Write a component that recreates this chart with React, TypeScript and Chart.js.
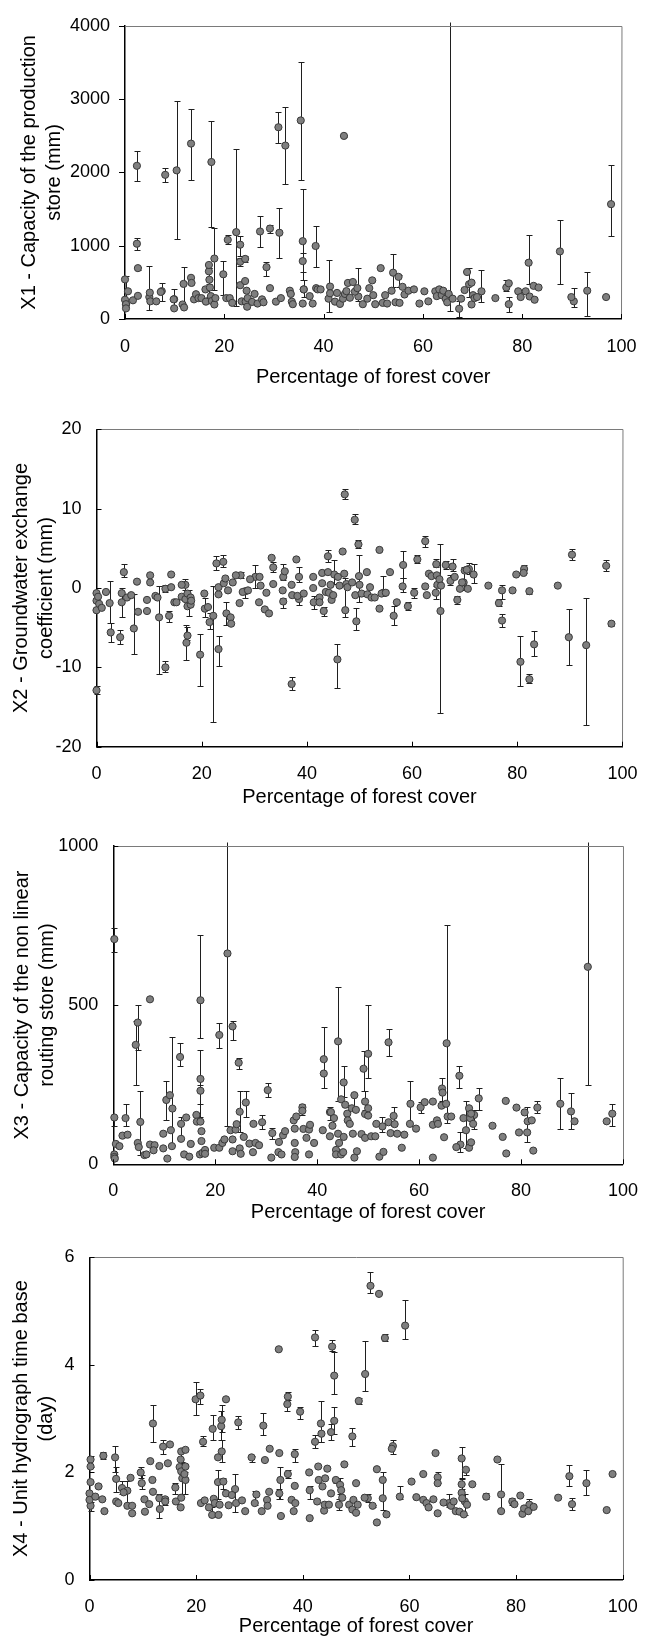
import React, { useEffect, useRef } from 'react';
import { Chart, registerables } from 'chart.js';

Chart.register(...registerables);

const FONT = '"Liberation Sans", Arial, Helvetica, sans-serif';

// ---------- shared ----------
const X_TICKS = [0, 20, 40, 60, 80, 100];
const X_TITLE = 'Percentage of forest cover';

// ---------- X1 ----------
const X1_TICKS = [0, 1000, 2000, 3000, 4000];
const X1_TITLE = ['X1 - Capacity of the production', 'store (mm)'];
const X1_COVER = [0, 0, 0.2, 0.2, 0.6, 1.6, 2.6, 5.0, 5.1, 6.3, 7.2, 9.8, 9.9, 11.6, 11.9, 13.3, 13.4, 13.9, 14.3, 14.8, 15.4, 16.2, 16.3, 16.9, 17.1, 17.3, 17.5, 18.0, 18.2, 20.4, 21.1, 21.6, 23.2, 23.5, 24.2, 24.3, 24.5, 24.6, 24.7, 25.6, 26.1, 26.7, 27.6, 27.9, 29.2, 30.4, 31.4, 33.2, 33.4, 33.6, 33.8, 35.8, 36.0, 37.2, 37.8, 38.5, 38.8, 39.4, 41.3, 41.3, 42.3, 42.7, 43.3, 43.9, 44.3, 44.6, 44.9, 45.3, 45.9, 46.3, 46.8, 47.9, 48.8, 49.2, 49.8, 50.0, 50.4, 51.5, 51.9, 52.4, 52.8, 53.7, 54.5, 55.3, 55.9, 56.3, 57.1, 58.2, 59.3, 60.3, 61.1, 62.5, 62.8, 63.3, 63.8, 64.1, 64.6, 64.9, 65.2, 66.0, 67.7, 68.4, 68.9, 69.8, 69.8, 70.1, 70.4, 70.9, 74.6, 77.3, 79.2, 79.7, 80.7, 81.5, 82.3, 82.5, 83.3, 89.9, 96.9];
const X1_VALUE = [540, 263, 202, 145, 378, 255, 316, 360, 241, 241, 369, 268, 145, 198, 158, 562, 492, 268, 338, 285, 285, 404, 237, 737, 430, 312, 246, 198, 285, 285, 285, 220, 461, 241, 518, 237, 386, 167, 285, 233, 342, 211, 268, 228, 421, 237, 285, 386, 342, 237, 202, 211, 404, 312, 211, 421, 404, 404, 443, 351, 237, 356, 206, 277, 342, 380, 492, 290, 505, 373, 421, 202, 277, 421, 527, 325, 202, 694, 220, 325, 211, 386, 228, 220, 439, 334, 386, 404, 211, 378, 241, 378, 312, 404, 325, 386, 277, 228, 342, 277, 277, 395, 641, 496, 198, 325, 285, 299, 285, 487, 378, 299, 378, 307, 452, 263, 430, 299, 299];
const X1_EB_COVER = [2.4, 2.4, 2.6, 8.1, 10.4, 13.3, 17.4, 18.0, 19.8, 20.7, 22.4, 23.2, 23.2, 24.2, 27.2, 28.5, 29.2, 30.9, 31.1, 32.3, 35.4, 35.8, 35.8, 38.4, 44.1, 65.5, 81.3, 87.6, 93.1, 97.9, 0.2, 4.9, 7.4, 9.9, 11.8, 16.9, 17.0, 41.0, 47.0, 54.0, 55.1, 67.3, 69.3, 71.8, 76.8, 77.3, 90.4, 36.0];
const X1_EB_VALUE = [2090, 1027, 694, 1967, 2028, 2393, 2142, 825, 610, 1080, 1185, 1014, 781, 820, 1194, 707, 1234, 2616, 1177, 2366, 2709, 1062, 790, 996, 2498, 290, 768, 922, 386, 1567, 200, 299, 380, 270, 479, 650, 536, 277, 307, 632, 575, 140, 474, 378, 430, 202, 241, 404];
const X1_EB_LOW = [1880, 940, 670, 1870, 1090, 1900, 1260, 400, 330, 1020, 180, 860, 720, 780, 980, 580, 1180, 2400, 830, 1840, 1900, 640, 530, 710, 2480, 110, 480, 480, 40, 1130, 160, 120, 250, 140, 160, 480, 300, 100, 250, 430, 440, 30, 300, 230, 380, 90, 170, 300];
const X1_EB_HIGH = [2290, 1110, 710, 2060, 2970, 2870, 2700, 1240, 790, 1140, 2320, 1130, 830, 860, 1410, 780, 1280, 2830, 1510, 2890, 3500, 1770, 900, 1270, 2515, 4300, 1140, 1350, 640, 2100, 580, 726, 490, 410, 713, 700, 690, 800, 690, 890, 600, 250, 700, 670, 530, 300, 420, 530];

// ---------- X2 ----------
const X2_TICKS = [-20, -10, 0, 10, 20];
const X2_TITLE = ['X2 - Groundwater exchange', 'coefficient (mm)'];
const X2_COVER = [0, 0, 0, 0.3, 0.5, 1.0, 1.8, 4.8, 5.8, 6.6, 7.7, 7.9, 9.6, 9.6, 10.2, 10.2, 11.2, 11.6, 14.2, 14.2, 14.8, 15.2, 16.2, 16.2, 16.9, 17.3, 17.3, 17.9, 17.9, 18.0, 20.5, 21.2, 23.2, 23.2, 24.2, 24.5, 25.0, 25.5, 25.6, 25.9, 26.5, 27.2, 27.8, 28.8, 29.2, 30.9, 31.0, 31.2, 32.0, 32.3, 32.8, 33.3, 33.6, 35.4, 35.8, 37.1, 37.2, 38.0, 38.2, 39.4, 41.2, 41.2, 42.4, 42.4, 42.9, 42.9, 43.6, 44.0, 44.2, 44.5, 44.7, 45.0, 45.9, 46.2, 46.8, 47.1, 47.5, 47.7, 48.6, 49.2, 49.9, 50.4, 51.4, 51.5, 52.0, 52.3, 52.9, 53.8, 53.8, 54.2, 55.0, 55.8, 57.1, 62.5, 62.8, 63.2, 63.7, 64.7, 64.8, 65.2, 65.5, 68.1, 69.1, 69.5, 70.0, 70.4, 70.6, 74.5, 79.1, 79.8, 81.2, 87.7];
const X2_VALUE = [-0.65, -1.6, -2.8, -1.1, -2.0, -2.5, -0.5, -0.65, -1.2, -0.9, 0.8, -3.0, -1.5, -2.9, 1.6, 0.7, -1.0, -1.2, 1.7, 0.1, -1.8, -1.8, 0.4, -1.1, -1.4, -0.7, -2.3, -2.1, -1.2, -1.6, -0.7, -2.4, -0.8, 0.1, 0.6, 1.2, -0.3, -3.7, -4.5, 0.7, 1.6, -1.9, -0.5, -0.3, 1.1, -1.8, 1.4, 0.3, -2.7, -0.6, -3.2, 3.8, 0.5, -0.3, 2.1, 0.4, -0.9, 3.6, -1.0, -0.7, 0.0, 1.4, -1.2, -1.8, 1.9, 0.6, -0.5, 2.0, -0.6, 0.4, -1.5, -0.9, 1.4, 0.3, 4.6, 1.8, 0.5, 0.1, 0.7, -0.9, 1.5, -0.7, 2.0, -0.8, 0.1, -1.2, -1.2, -2.6, 4.8, -0.7, -0.6, 2.0, -1.8, 0.2, -0.9, 1.8, 1.5, 1.6, 0.4, 1.1, 0.3, 1.4, -0.1, 0.7, 2.2, 2.3, -0.1, 0.3, -0.3, 1.7, 1.9, 0.3];
const X2_EB_COVER = [0, 2.5, 2.7, 4.5, 4.8, 5.2, 7.1, 11.9, 13.1, 13.1, 13.8, 16.9, 17.1, 17.3, 17.5, 19.7, 20.6, 21.5, 22.2, 22.8, 23.2, 24.1, 24.7, 27.4, 28.3, 30.2, 33.6, 35.5, 35.5, 37.1, 38.5, 38.5, 41.3, 43.2, 44.0, 45.2, 45.8, 47.2, 47.3, 49.1, 49.4, 49.8, 50.0, 54.5, 56.5, 58.2, 58.3, 59.2, 60.4, 61.0, 62.5, 64.5, 64.6, 65.4, 66.4, 67.3, 67.7, 68.6, 69.8, 70.8, 71.7, 76.5, 77.1, 77.1, 80.6, 81.3, 82.3, 82.3, 83.2, 89.8, 90.4, 93.1, 96.9, 97.9];
const X2_EB_VALUE = [-12.9, -1.9, -5.6, -6.2, -1.8, 2.0, -5.1, -3.7, -10, -0.1, -3.5, 0.4, -6.9, -6.0, -1.5, -8.4, -2.6, -4.3, -3.5, 3.1, -7.7, 3.3, -3.2, 1.6, -0.4, 1.4, 2.6, 1.4, -1.7, -12.1, 1.4, -1.4, -1.8, -2.9, 4.0, 1.7, -9.0, 11.8, -2.8, 8.6, -4.2, 5.5, 0.4, -0.6, -3.5, 0.2, 2.9, -2.3, -0.6, 3.6, 5.9, -0.6, 3.0, -2.9, 2.9, 0.9, 2.7, -1.5, 0.7, 2.4, 1.7, -1.9, -0.3, -4.1, -9.3, 2.4, -0.4, -11.5, -7.1, -6.2, 4.2, -7.2, 2.8, -4.5];
const X2_EB_LOW = [-13.3, -4.4, -6.8, -7.0, -3.6, 1.4, -8.3, -10.9, -10.6, -0.5, -4.3, -0.2, -9.1, -6.5, -3.5, -12.4, -3.6, -5.2, -16.9, 2.3, -9.8, 2.7, -4.7, 1.2, -1.2, 0, 2.0, 1.0, -2.5, -12.9, 0.8, -2.1, -2.7, -3.5, 3.3, 0.5, -12.6, 11.2, -3.6, 8.1, -5.3, 5.0, -1.8, -1.0, -4.6, -0.5, 1.2, -2.8, -1.3, 3.1, 5.2, -1.4, 2.6, -15.8, 2.4, 0.4, 2.1, -2.0, -0.3, 1.8, 0.6, -2.3, -1.4, -4.9, -12.3, 1.9, -0.7, -12.0, -8.6, -9.7, 3.5, -17.3, 2.2, -4.8];
const X2_EB_HIGH = [-12.4, 0.9, -4.4, -5.3, 0, 3.0, -0.8, 0.2, -9.2, 0.4, -2.9, 1.1, -4.6, -4.9, -0.2, -5.8, -1.3, -3.2, 0.2, 4.0, -6.0, 4.2, -1.8, 2.0, -0.2, 2.9, 3.3, 3.0, -1.2, -11.2, 2.6, -0.8, -1.0, -2.4, 4.8, 3.5, -7.1, 12.5, 1.2, 9.3, -2.5, 6.1, 4.2, 1.5, -2.3, 1.2, 4.7, -1.8, 0.0, 4.1, 6.6, 0.2, 3.6, 5.6, 3.4, 1.6, 3.6, -1.0, 2.6, 3.1, 3.0, -1.4, 0.4, -3.3, -6.1, 2.9, -0.1, -10.9, -5.4, -2.7, 4.9, -1.2, 3.5, -4.2];

// ---------- X3 ----------
const X3_TICKS = [0, 500, 1000];
const X3_TITLE = ['X3 - Capacity of the non linear', 'routing store (mm)'];
const X3_COVER = [0.2, 0.2, 0.3, 0.5, 1.2, 1.8, 2.8, 4.8, 5.0, 6.1, 6.5, 7.2, 7.2, 8.1, 7.9, 9.8, 9.8, 10.6, 11.1, 11.3, 11.5, 13.3, 13.9, 14.3, 14.9, 15.2, 16.3, 16.4, 17.1, 17.3, 17.3, 17.0, 17.5, 18.0, 18.0, 19.8, 20.8, 21.4, 21.8, 23.0, 23.4, 23.4, 24.0, 24.2, 24.8, 25.0, 25.6, 26.7, 27.4, 27.5, 27.9, 28.6, 31.0, 32.4, 32.5, 33.0, 33.3, 33.7, 35.4, 35.6, 35.6, 35.7, 35.6, 35.9, 37.1, 37.3, 37.9, 38.4, 38.4, 38.6, 39.4, 41.1, 41.3, 42.7, 42.5, 43.0, 43.3, 43.7, 43.7, 44.1, 44.3, 44.7, 44.7, 45.1, 45.2, 45.5, 45.9, 46.0, 46.4, 46.8, 47.0, 47.3, 47.6, 47.8, 48.7, 49.4, 49.4, 50.0, 50.0, 50.6, 51.4, 51.6, 52.2, 53.0, 54.0, 54.4, 55.2, 55.7, 56.6, 57.1, 58.2, 59.4, 61.1, 62.7, 62.7, 62.7, 63.5, 63.7, 64.4, 64.6, 64.9, 65.3, 65.6, 66.3, 67.3, 68.7, 69.8, 69.8, 70.0, 70.2, 70.2, 70.6, 74.4, 76.4, 77.0, 77.1, 79.1, 79.6, 80.7, 81.3, 82.1, 82.4, 90.5, 96.8];
const X3_VALUE = [31, 23, 18, 64, 57, 90, 93, 67, 54, 29, 31, 518, 62, 60, 44, 96, 50, 18, 217, 107, 57, 80, 31, 147, 24, 64, 155, 134, 134, 104, 73, 31, 36, 45, 33, 52, 52, 67, 78, 107, 78, 41, 109, 126, 50, 33, 86, 65, 38, 127, 67, 60, 21, 38, 70, 31, 91, 104, 138, 112, 67, 38, 23, 150, 168, 111, 83, 109, 31, 124, 67, 107, 285, 164, 88, 121, 145, 45, 31, 96, 67, 31, 204, 38, 86, 187, 159, 138, 127, 176, 96, 21, 171, 41, 95, 158, 83, 176, 153, 88, 88, 127, 24, 39, 132, 98, 126, 96, 52, 93, 127, 112, 195, 21, 124, 197, 138, 127, 184, 225, 85, 190, 150, 150, 54, 145, 176, 52, 145, 69, 159, 127, 121, 86, 199, 34, 178, 100, 163, 135, 138, 43, 135, 135];
const X3_EB_COVER = [0.2, 0.2, 2.4, 4.4, 4.8, 5.3, 10.4, 11.6, 13.1, 13.3, 17.1, 17.1, 17.1, 20.8, 22.4, 23.4, 24.6, 24.8, 26.0, 29.2, 30.3, 31.2, 37.1, 41.3, 42.5, 44.1, 45.2, 47.3, 49.1, 49.4, 50.0, 52.8, 54.0, 55.0, 58.3, 60.3, 64.5, 65.4, 67.9, 68.1, 69.2, 70.8, 71.7, 81.2, 83.2, 87.7, 89.8, 93.1, 97.9];
const X3_EB_VALUE = [707, 147, 145, 375, 445, 133, 202, 175, 337, 127, 515, 268, 231, 406, 662, 433, 319, 165, 194, 132, 233, 98, 179, 330, 164, 386, 257, 217, 300, 197, 347, 119, 383, 152, 190, 179, 238, 380, 278, 62, 107, 155, 207, 100, 178, 190, 166, 620, 159];
const X3_EB_LOW = [667, 120, 120, 250, 360, 30, 140, 60, 310, 80, 395, 150, 190, 365, 120, 390, 300, 100, 150, 110, 210, 80, 155, 240, 140, 200, 210, 180, 230, 170, 270, 100, 340, 120, 120, 160, 200, 130, 240, 40, 50, 110, 170, 70, 160, 110, 110, 250, 120];
const X3_EB_HIGH = [742, 150, 190, 450, 500, 230, 262, 400, 380, 150, 720, 360, 250, 445, 1100, 450, 335, 230, 230, 155, 255, 115, 190, 430, 180, 556, 310, 225, 355, 230, 500, 150, 425, 180, 260, 195, 270, 750, 310, 100, 200, 170, 240, 180, 200, 270, 225, 1100, 190];

// ---------- X4 ----------
const X4_TICKS = [0, 2, 4, 6];
const X4_TITLE = ['X4 - Unit hydrograph time base', '(day)'];
const X4_COVER = [0.2, 0.2, 0, 0, 1.1, 1.7, 2.4, 2.8, 5.0, 5.4, 6.4, 7.1, 7.7, 8.0, 8.0, 10.3, 10.4, 11.2, 11.4, 11.8, 11.9, 13.1, 13.2, 14.2, 14.7, 15.1, 16.2, 16.9, 17.1, 17.2, 17.2, 17.2, 17.8, 18.0, 18.0, 20.9, 21.6, 22.4, 23.3, 23.5, 24.1, 24.2, 24.4, 25.6, 25.6, 26.1, 26.7, 27.5, 28.6, 29.2, 31.3, 32.3, 32.9, 33.3, 33.4, 33.7, 33.8, 35.5, 35.6, 35.9, 37.9, 38.3, 38.5, 38.6, 41.2, 41.3, 42.7, 42.9, 43.0, 43.7, 44.0, 44.1, 44.2, 44.6, 44.9, 45.3, 47.2, 47.4, 47.8, 48.7, 49.3, 49.5, 50.0, 50.0, 50.3, 51.6, 53.9, 53.9, 54.3, 55.0, 55.7, 56.7, 60.4, 61.3, 62.6, 62.6, 63.2, 63.6, 64.5, 64.9, 65.3, 65.3, 66.4, 67.8, 68.3, 68.7, 69.4, 69.8, 69.9, 70.2, 70.8, 71.8, 76.5, 77.2, 79.7, 80.8, 81.2, 81.5, 82.3, 83.3, 87.9, 97.0, 98.1];
const X4_VALUE = [2.11, 1.82, 1.61, 1.49, 1.55, 1.74, 1.50, 1.28, 1.46, 1.43, 1.63, 1.38, 1.90, 1.24, 1.38, 1.50, 1.27, 1.41, 2.21, 1.86, 1.64, 2.12, 1.32, 1.46, 2.17, 2.52, 1.46, 2.10, 1.35, 2.39, 1.53, 2.02, 1.97, 2.42, 2.11, 1.43, 1.48, 1.35, 1.51, 1.43, 2.28, 1.21, 1.40, 3.36, 1.61, 1.39, 1.58, 1.43, 1.48, 1.28, 1.59, 1.28, 2.23, 1.49, 1.38, 1.64, 2.44, 4.29, 2.36, 1.19, 1.49, 1.28, 1.75, 1.43, 2.0, 1.15, 1.46, 2.11, 1.86, 1.74, 1.29, 1.40, 1.89, 2.07, 1.40, 1.61, 1.67, 1.53, 2.15, 1.40, 1.31, 1.49, 1.80, 1.25, 1.40, 1.53, 2.06, 1.07, 5.32, 1.52, 1.22, 2.44, 1.83, 1.54, 1.97, 1.49, 1.43, 1.35, 1.50, 2.36, 1.80, 1.24, 1.44, 1.38, 1.46, 1.28, 1.27, 1.62, 1.52, 1.22, 1.40, 1.78, 2.24, 1.28, 1.41, 1.57, 1.23, 1.33, 1.28, 1.36, 1.53, 1.30, 1.97];
const X4_EB_COVER = [0.2, 0.2, 2.6, 4.8, 5.0, 6.1, 7.1, 9.6, 9.8, 11.9, 13.1, 13.8, 14.2, 16.1, 17.1, 17.4, 18.0, 19.9, 20.8, 21.3, 23.1, 23.0, 24.1, 24.7, 24.8, 24.8, 25.1, 27.3, 27.9, 30.4, 31.0, 32.6, 35.8, 35.6, 37.1, 37.2, 37.2, 38.5, 39.5, 41.3, 42.3, 42.3, 43.4, 43.5, 45.3, 45.5, 45.9, 45.9, 46.2, 46.8, 47.0, 49.3, 50.5, 51.7, 52.2, 52.7, 53.1, 55.0, 55.4, 56.9, 58.2, 59.2, 65.3, 67.4, 69.8, 69.8, 70.4, 70.6, 74.4, 77.2, 79.3, 82.5, 90.0, 90.5, 93.2];
const X4_EB_VALUE = [2.24, 1.38, 2.31, 2.28, 1.88, 1.71, 1.66, 2.0, 1.80, 2.91, 1.52, 2.48, 1.50, 1.72, 2.24, 1.89, 1.86, 3.36, 3.43, 2.57, 2.81, 1.21, 1.82, 2.86, 2.98, 2.39, 1.83, 1.69, 2.93, 2.28, 1.43, 2.87, 1.86, 1.61, 3.27, 3.41, 1.97, 2.34, 3.13, 1.67, 4.51, 2.57, 2.91, 2.72, 2.75, 4.34, 3.80, 2.96, 1.86, 1.40, 1.77, 2.67, 3.33, 3.83, 1.52, 5.47, 1.38, 1.86, 4.50, 2.49, 1.55, 4.73, 1.91, 1.43, 2.26, 1.78, 1.46, 2.05, 1.55, 1.59, 1.46, 1.40, 1.93, 1.41, 1.80];
const X4_EB_LOW = [2.1, 1.28, 2.25, 2.0, 1.63, 1.6, 1.4, 1.9, 1.7, 2.56, 1.15, 2.35, 1.4, 1.6, 2.0, 1.6, 1.6, 3.06, 3.28, 2.5, 2.6, 1.18, 1.5, 2.6, 2.75, 2.2, 1.7, 1.26, 2.8, 2.2, 1.4, 2.7, 1.5, 1.5, 3.15, 3.35, 1.9, 2.2, 3.0, 1.5, 4.36, 2.45, 2.57, 2.57, 2.6, 4.25, 3.46, 2.72, 1.8, 1.3, 1.6, 2.5, 3.28, 3.51, 1.45, 5.33, 1.35, 1.3, 4.45, 2.35, 1.5, 4.48, 1.8, 1.35, 1.9, 1.7, 1.2, 1.95, 1.5, 1.3, 1.4, 1.3, 1.74, 1.3, 1.58];
const X4_EB_HIGH = [2.3, 1.45, 2.38, 2.5, 2.1, 1.85, 1.85, 2.1, 1.95, 3.26, 1.6, 2.6, 1.55, 1.8, 2.4, 2.2, 2.0, 3.69, 3.56, 2.67, 3.06, 1.35, 2.05, 3.15, 3.25, 2.6, 1.9, 1.98, 3.05, 2.3, 1.65, 3.1, 2.1, 1.7, 3.4, 3.5, 2.05, 2.43, 3.22, 1.75, 4.64, 2.7, 3.33, 2.9, 2.9, 4.47, 4.23, 3.22, 1.9, 1.5, 1.9, 2.83, 3.38, 4.44, 1.6, 5.72, 1.4, 2.0, 4.57, 2.6, 1.75, 5.21, 2.0, 1.6, 2.47, 1.88, 1.6, 2.05, 1.62, 2.15, 1.53, 1.5, 2.13, 1.53, 2.05];

type Pt = { x: number; y: number; lo?: number; hi?: number };

function buildPoints(cover: number[], value: number[], ebCover: number[], ebValue: number[], ebLow: number[], ebHigh: number[]): Pt[] {
  const pts: Pt[] = [];
  ebCover.forEach((c, i) => pts.push({ x: c, y: ebValue[i], lo: ebLow[i], hi: ebHigh[i] }));
  cover.forEach((c, i) => pts.push({ x: c, y: value[i] }));
  return pts;
}

const errorBarPlugin = {
  id: 'errorBars',
  beforeDatasetsDraw(chart: any) {
    const { ctx, chartArea, scales } = chart;
    const xs = scales.x;
    const ys = scales.y;
    const topLimit = chartArea.top - 4;
    ctx.save();
    ctx.strokeStyle = '#1f1f1f';
    ctx.lineWidth = 1;
    const data: Pt[] = chart.data.datasets[0].data;
    data.forEach((p) => {
      if (p.lo === undefined || p.hi === undefined) return;
      const px = Math.round(xs.getPixelForValue(p.x)) + 0.5;
      let yHi = ys.getPixelForValue(p.hi);
      let yLo = ys.getPixelForValue(p.lo);
      const capHi = yHi >= topLimit;
      yHi = Math.max(yHi, topLimit);
      yLo = Math.min(yLo, chartArea.bottom);
      ctx.beginPath();
      ctx.moveTo(px, Math.round(yLo) + 0.5);
      ctx.lineTo(px, Math.round(yHi) + 0.5);
      if (capHi) {
        ctx.moveTo(px - 3, Math.round(yHi) + 0.5);
        ctx.lineTo(px + 3, Math.round(yHi) + 0.5);
      }
      ctx.moveTo(px - 3, Math.round(yLo) + 0.5);
      ctx.lineTo(px + 3, Math.round(yLo) + 0.5);
      ctx.stroke();
    });
    ctx.restore();
  },
};

const framePlugin = {
  id: 'frame',
  afterDraw(chart: any, _args: any, opts: any) {
    const { ctx, chartArea, scales } = chart;
    const { left, right, top, bottom } = chartArea;
    ctx.save();
    ctx.strokeStyle = '#7a7a7a';
    ctx.lineWidth = 1;
    ctx.beginPath();
    ctx.moveTo(left, Math.round(top) + 0.5);
    ctx.lineTo(right + 0.5, Math.round(top) + 0.5);
    ctx.lineTo(Math.round(right) + 0.5, bottom);
    ctx.stroke();
    ctx.strokeStyle = '#000';
    ctx.beginPath();
    scales.x.ticks.forEach((t: any) => {
      const px = Math.round(scales.x.getPixelForValue(t.value)) + 0.5;
      ctx.moveTo(px, bottom);
      ctx.lineTo(px, bottom - 5);
    });
    scales.y.ticks.forEach((t: any) => {
      const py = Math.round(scales.y.getPixelForValue(t.value)) + 0.5;
      if (opts.yTicksOut) {
        ctx.moveTo(left - 6, py);
        ctx.lineTo(left, py);
      } else {
        ctx.moveTo(left, py);
        ctx.lineTo(left + 5, py);
      }
    });
    ctx.stroke();
    ctx.restore();
  },
};

type Spec = {
  top: number;
  height: number;
  area: { left: number; right: number; top: number; bottom: number };
  yTicks: number[];
  yTitle: string[];
  yTitlePad: number;
  xTickPad: number;
  xTitlePad: number;
  yTicksOut: boolean;
  points: Pt[];
};

const W = 654;

const SPECS: Spec[] = [
  {
    top: 0, height: 400,
    area: { left: 125, right: 637, top: 16, bottom: 319 },
    yTicks: X1_TICKS, yTitle: X1_TITLE, yTitlePad: 16.5, xTickPad: 17.5, xTitlePad: 10.5, yTicksOut: true,
    points: buildPoints(X1_COVER, X1_VALUE, X1_EB_COVER, X1_EB_VALUE, X1_EB_LOW, X1_EB_HIGH),
  },
  {
    top: 400, height: 420,
    area: { left: 96.5, right: 638, top: 29.3, bottom: 346.7 },
    yTicks: X2_TICKS, yTitle: X2_TITLE, yTitlePad: 8.5, xTickPad: 16.5, xTitlePad: 10.5, yTicksOut: false,
    points: buildPoints(X2_COVER, X2_VALUE, X2_EB_COVER, X2_EB_VALUE, X2_EB_LOW, X2_EB_HIGH),
  },
  {
    top: 820, height: 410,
    area: { left: 113.3, right: 638, top: 23.3, bottom: 344.3 },
    yTicks: X3_TICKS, yTitle: X3_TITLE, yTitlePad: 9.5, xTickPad: 16, xTitlePad: 5.5, yTicksOut: false,
    points: buildPoints(X3_COVER, X3_VALUE, X3_EB_COVER, X3_EB_VALUE, X3_EB_LOW, X3_EB_HIGH),
  },
  {
    top: 1230, height: 409,
    area: { left: 89.5, right: 638, top: 27.3, bottom: 350 },
    yTicks: X4_TICKS, yTitle: X4_TITLE, yTitlePad: 8.5, xTickPad: 16.3, xTitlePad: 0, yTicksOut: false,
    points: buildPoints(X4_COVER, X4_VALUE, X4_EB_COVER, X4_EB_VALUE, X4_EB_LOW, X4_EB_HIGH),
  },
];

function Panel({ spec }: { spec: Spec }) {
  const ref = useRef<HTMLCanvasElement>(null);
  useEffect(() => {
    const yMin = Math.min(...spec.yTicks);
    const yMax = Math.max(...spec.yTicks);
    const chart = new Chart(ref.current as HTMLCanvasElement, {
      type: 'scatter',
      data: {
        datasets: [
          {
            data: spec.points as any,
            pointRadius: 3.6,
            pointHoverRadius: 3.6,
            pointBackgroundColor: '#7f7f7f',
            pointBorderColor: '#3a3a3a',
            pointBorderWidth: 1,
            clip: false as any,
          },
        ],
      },
      options: {
        responsive: false,
        maintainAspectRatio: false,
        animation: false,
        events: [],
        layout: { padding: { left: 0, top: spec.area.top, right: W - spec.area.right, bottom: 0 } },
        plugins: {
          legend: { display: false },
          tooltip: { enabled: false },
          frame: { yTicksOut: spec.yTicksOut },
        } as any,
        scales: {
          x: {
            type: 'linear',
            position: 'bottom',
            min: 0,
            max: 100,
            afterBuildTicks: (s: any) => {
              s.ticks = X_TICKS.map((v) => ({ value: v }));
            },
            ticks: {
              font: { family: FONT, size: 18 },
              color: '#000',
              padding: spec.xTickPad,
              maxRotation: 0,
              callback: (v: any) => String(v),
            },
            grid: { display: false, drawTicks: false },
            border: { display: true, color: '#000', width: 1.5 },
            title: {
              display: true,
              text: X_TITLE,
              color: '#000',
              font: { family: FONT, size: 20, lineHeight: 1.25 },
              padding: { top: 0, bottom: spec.xTitlePad },
            },
            afterFit: (s: any) => {
              s.height = spec.height - spec.area.bottom;
            },
          },
          y: {
            type: 'linear',
            position: 'left',
            min: yMin,
            max: yMax,
            afterBuildTicks: (s: any) => {
              s.ticks = spec.yTicks.map((v) => ({ value: v }));
            },
            ticks: {
              font: { family: FONT, size: 18 },
              color: '#000',
              padding: 15,
              callback: (v: any) => String(v),
            },
            grid: { display: false, drawTicks: false },
            border: { display: true, color: '#000', width: 1.5 },
            title: {
              display: true,
              text: spec.yTitle,
              color: '#000',
              font: { family: FONT, size: 20, lineHeight: 1.25 },
              padding: { top: spec.yTitlePad, bottom: 0 },
            },
            afterFit: (s: any) => {
              s.width = spec.area.left;
            },
          },
        } as any,
      },
      plugins: [errorBarPlugin, framePlugin],
    });
    return () => chart.destroy();
  }, [spec]);
  return (
    <canvas
      ref={ref}
      width={W}
      height={spec.height}
      style={{ position: 'absolute', left: 0, top: spec.top, width: W, height: spec.height, display: 'block' }}
    />
  );
}

export default function App() {
  return (
    <div style={{ position: 'absolute', left: 0, top: 0, width: W, height: 1639, background: '#fff', overflow: 'hidden' }}>
      {SPECS.map((s, i) => (
        <Panel key={i} spec={s} />
      ))}
    </div>
  );
}
